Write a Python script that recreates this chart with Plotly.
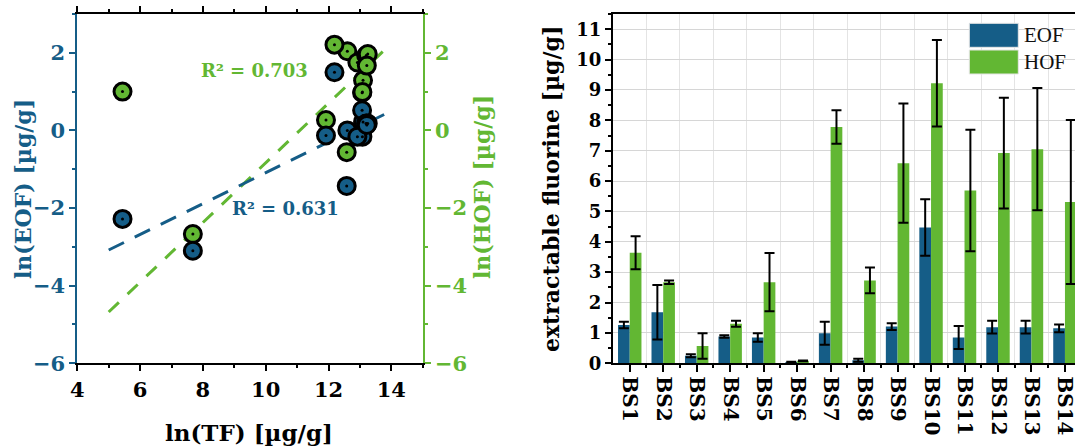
import numpy as np
import plotly.graph_objects as go

# ---- data -------------------------------------------------------------
samples = ["BS1", "BS2", "BS3", "BS4", "BS5", "BS6", "BS7",
           "BS8", "BS9", "BS10", "BS11", "BS12", "BS13", "BS14"]

# extractable fluorine, mean and standard deviation [µg/g]
eof_mean = [1.26, 1.68, 0.25, 0.88, 0.85, 0.04, 0.99, 0.10, 1.21, 4.47, 0.85, 1.19, 1.19, 1.15]
eof_sd = [0.11, 0.90, 0.05, 0.04, 0.14, 0.01, 0.38, 0.05, 0.11, 0.93, 0.38, 0.21, 0.21, 0.13]
hof_mean = [3.64, 2.67, 0.57, 1.30, 2.67, 0.08, 7.78, 2.73, 6.59, 9.22, 5.69, 6.92, 7.05, 5.31]
hof_sd = [0.54, 0.06, 0.42, 0.10, 0.96, 0.01, 0.55, 0.42, 1.96, 1.42, 2.00, 1.82, 2.01, 2.70]

# log-transformed values for the correlation plot
ln_tf = [13.10, 13.07, 12.58, 11.92, 13.08, 7.68, 12.60, 5.44, 13.20, 12.19, 12.92, 13.20, 13.25, 13.22]
ln_eof = [0.22, 0.52, -1.43, -0.13, -0.16, -3.10, 0.00, -2.28, 0.18, 1.50, -0.16, 0.17, 0.18, 0.14]
ln_hof = [1.29, 0.97, -0.56, 0.27, 0.99, -2.67, 2.04, 1.00, 1.89, 2.21, 1.75, 1.93, 1.97, 1.67]

r2_eof = "0.631"
r2_hof = "0.703"

# x extent of the regression lines
eof_fit_x = [5.0, 14.0]
hof_fit_x = [5.0, 13.85]

BLUE = "#155d87"
GREEN = "#62b733"
SERIF = "DejaVu Serif"

# ---- regressions (BS8 is left out of the HOF fit as an outlier) --------
x_all = np.array(ln_tf)
eof_coef = np.polyfit(x_all, np.array(ln_eof), 1)
keep = np.array([s != "BS8" for s in samples])
hof_coef = np.polyfit(x_all[keep], np.array(ln_hof)[keep], 1)

fig = go.Figure()

fig.add_trace(go.Scatter(
    x=hof_fit_x, y=np.polyval(hof_coef, hof_fit_x), mode="lines",
    line=dict(color=GREEN, width=3, dash="14px,12px"),
    xaxis="x", yaxis="y", showlegend=False, hoverinfo="skip"))
fig.add_trace(go.Scatter(
    x=eof_fit_x, y=np.polyval(eof_coef, eof_fit_x), mode="lines",
    line=dict(color=BLUE, width=3, dash="17px,12px"),
    xaxis="x", yaxis="y", showlegend=False, hoverinfo="skip"))

for vals, col in ((ln_hof, GREEN), (ln_eof, BLUE)):
    fig.add_trace(go.Scatter(
        x=ln_tf, y=vals, mode="markers",
        marker=dict(size=17, color=col, line=dict(color="black", width=3)),
        xaxis="x", yaxis="y", showlegend=False))
    fig.add_trace(go.Scatter(
        x=ln_tf, y=vals, mode="markers",
        marker=dict(size=3, color="black"),
        xaxis="x", yaxis="y", showlegend=False, hoverinfo="skip"))

# keeps the right-hand ln(HOF) axis attached to the scatter panel
fig.add_trace(go.Scatter(x=[None], y=[None], xaxis="x", yaxis="y2",
                         showlegend=False, hoverinfo="skip"))

# ---- bar chart ----------------------------------------------------------
idx = list(range(len(samples)))
fig.add_trace(go.Bar(
    x=idx, y=eof_mean, name="EOF", marker=dict(color=BLUE, line=dict(width=0)),
    error_y=dict(type="data", array=eof_sd, color="black", thickness=2, width=5),
    xaxis="x2", yaxis="y3", showlegend=False))
fig.add_trace(go.Bar(
    x=idx, y=hof_mean, name="HOF", marker=dict(color=GREEN, line=dict(width=0)),
    error_y=dict(type="data", array=hof_sd, color="black", thickness=2, width=5),
    xaxis="x2", yaxis="y3", showlegend=False))

W, H = 1075, 448
px_x = lambda p: p / W
px_y = lambda p: 1 - p / H

y_dom = [px_y(363.3), px_y(14)]

def tickfont(size, color):
    return dict(family=SERIF, size=size, color=color, weight="bold")

fig.update_layout(
    width=W, height=H,
    margin=dict(l=0, r=0, t=0, b=0, autoexpand=False),
    paper_bgcolor="white", plot_bgcolor="white",
    barmode="group", bargap=0.3, bargroupgap=0,
    xaxis=dict(
        domain=[px_x(77.3), px_x(422.7)], range=[4, 15], anchor="y", automargin=False,
        tick0=4, dtick=2, ticks="outside", ticklen=6, tickwidth=2, tickcolor="black",
        minor=dict(dtick=1, ticks="outside", ticklen=3, tickwidth=2, tickcolor="black"),
        showline=True, linecolor="black", linewidth=2, mirror="ticks",
        showgrid=False, zeroline=False, tickfont=tickfont(21, "black")),
    yaxis=dict(
        domain=y_dom, range=[-6, 3], anchor="x", automargin=False,
        tick0=-6, dtick=2, ticks="outside", ticklen=6, tickwidth=2, tickcolor=BLUE,
        minor=dict(dtick=1, ticks="outside", ticklen=3, tickwidth=2, tickcolor=BLUE),
        showline=True, linecolor=BLUE, linewidth=2,
        showgrid=False, zeroline=False, tickfont=tickfont(21, BLUE)),
    yaxis2=dict(
        overlaying="y", side="right", range=[-6, 3], anchor="x", automargin=False,
        tick0=-6, dtick=2, ticks="outside", ticklen=6, tickwidth=2, tickcolor=GREEN,
        minor=dict(dtick=1, ticks="outside", ticklen=3, tickwidth=2, tickcolor=GREEN),
        showline=True, linecolor=GREEN, linewidth=2,
        showgrid=False, zeroline=False, tickfont=tickfont(21, GREEN)),
    xaxis2=dict(
        domain=[px_x(613), 1.0], range=[-0.5, 13.3], anchor="y3", automargin=False,
        tickmode="array", tickvals=idx, ticktext=samples, tickangle=90,
        ticklabeloverflow="allow",
        ticks="outside", ticklen=7, tickwidth=1.5, tickcolor="black",
        minor=dict(tickmode="array", tickvals=[i + 0.5 for i in idx[:-1]],
                   ticks="outside", ticklen=3, tickwidth=1.5, tickcolor="black",
                   showgrid=True, gridcolor="#e4e4e4", gridwidth=1),
        showline=True, linecolor="black", linewidth=2, mirror=True,
        showgrid=False, zeroline=False, tickfont=tickfont(20, "black")),
    yaxis3=dict(
        domain=y_dom, range=[0, 11.5], anchor="x2", automargin=False,
        tick0=0, dtick=1, ticks="outside", ticklen=6, tickwidth=2, tickcolor="black",
        minor=dict(dtick=0.5, ticks="outside", ticklen=3, tickwidth=1.5, tickcolor="black"),
        showline=True, linecolor="black", linewidth=2,
        showgrid=True, gridcolor="#d6d6d6", gridwidth=1,
        zeroline=False, tickfont=tickfont(18, "black")),
)

title_font = lambda c, s=22: dict(family=SERIF, size=s, color=c, weight="bold")

annotations = [
    dict(text="ln(TF) [µg/g]", x=px_x(249), y=px_y(432), xref="paper", yref="paper",
         showarrow=False, xanchor="center", yanchor="middle", font=title_font("black", 23)),
    dict(text="ln(EOF) [µg/g]", x=px_x(23), y=px_y(189), xref="paper", yref="paper",
         showarrow=False, textangle=-90, xanchor="center", yanchor="middle",
         font=title_font(BLUE)),
    dict(text="ln(HOF) [µg/g]", x=px_x(482), y=px_y(187), xref="paper", yref="paper",
         showarrow=False, textangle=-90, xanchor="center", yanchor="middle",
         font=title_font(GREEN)),
    dict(text="extractable fluorine [µg/g]", x=px_x(551), y=px_y(189), xref="paper", yref="paper",
         showarrow=False, textangle=-90, xanchor="center", yanchor="middle",
         font=title_font("black")),
    dict(text="R² = " + r2_hof, x=9.65, y=1.55, xref="x", yref="y",
         showarrow=False, xanchor="center", yanchor="middle", font=title_font(GREEN, 18)),
    dict(text="R² = " + r2_eof, x=10.64, y=-2.0, xref="x", yref="y",
         showarrow=False, xanchor="center", yanchor="middle", font=title_font(BLUE, 18)),
]

# legend for the bar chart
shapes = []
for name, col, top, bot in (("EOF", BLUE, 23.3, 47.3), ("HOF", GREEN, 50.0, 74.0)):
    shapes.append(dict(type="rect", xref="paper", yref="paper",
                       x0=px_x(969.3), x1=px_x(1018.3), y0=px_y(bot), y1=px_y(top),
                       fillcolor=col, line=dict(color="#e6e6e6", width=1)))
    annotations.append(dict(text=name, x=px_x(1022), y=px_y((top + bot) / 2),
                            xref="paper", yref="paper", showarrow=False,
                            xanchor="left", yanchor="middle",
                            font=dict(family="Liberation Serif", size=21, color="#111")))

fig.update_layout(annotations=annotations, shapes=shapes)

fig.write_html("out.html")
